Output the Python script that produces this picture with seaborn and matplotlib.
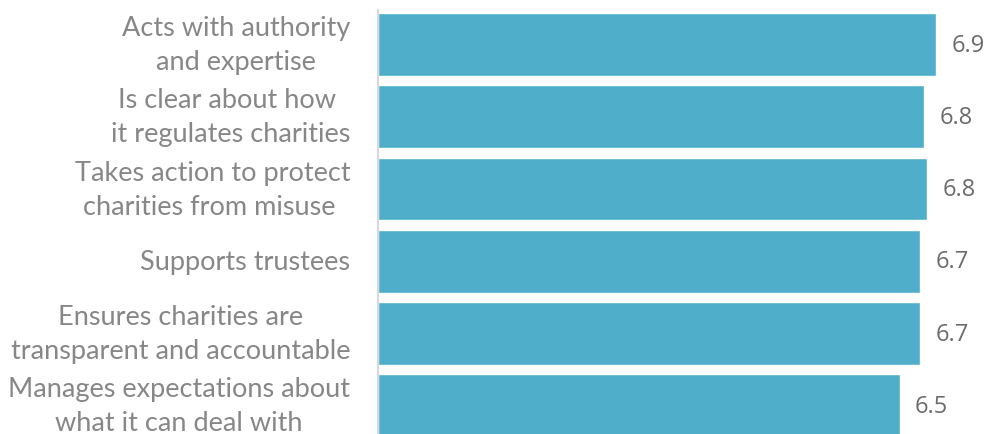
import matplotlib
matplotlib.use("Agg")
import matplotlib.pyplot as plt
import seaborn as sns
import pandas as pd

# ========== data ==========
labels = [
    "Acts with authority\nand expertise",
    "Is clear about how \nit regulates charities",
    "Takes action to protect\ncharities from misuse ",
    "Supports trustees",
    "Ensures charities are\ntransparent and accountable",
    "Manages expectations about\nwhat it can deal with",
]
scores = [6.90, 6.75, 6.79, 6.70, 6.70, 6.45]

df = pd.DataFrame({"label": labels, "score": scores})

bar_color = "#4FAECA"
label_color = "#878787"
value_color = "#6B6B6B"

sns.set_style("white")
plt.rcParams["font.family"] = ["Lato", "DejaVu Sans"]

fig = plt.figure(figsize=(9.92, 4.35), dpi=100)
ax = fig.add_axes([378 / 992, 0, 614 / 992, 1])

sns.barplot(data=df, x="score", y="label", orient="h", color=bar_color,
            width=0.87, saturation=1, ax=ax)

# value labels
for i, v in enumerate(scores):
    ax.annotate(f"{v:.1f}", xy=(v, i), xytext=(11, 0), textcoords="offset points",
                ha="left", va="center", fontsize=17, color=value_color,
                family=["Open Sans", "DejaVu Sans"])

ax.set_xlim(0, 7.59)
ax.set_ylim(5.39, -0.63)
ax.set_xlabel("")
ax.set_ylabel("")
ax.set_xticks([])

for side in ["top", "right", "bottom"]:
    ax.spines[side].set_visible(False)
ax.spines["left"].set_color("#D9D9D9")
ax.spines["left"].set_linewidth(1.5)
ax.spines["left"].set_bounds(5.39, -0.48)

ax.tick_params(axis="y", length=0, pad=20, labelsize=19.5, labelcolor=label_color)
for t in ax.get_yticklabels():
    t.set_multialignment("center")
    t.set_verticalalignment("center")
    t.set_linespacing(1.45)

plt.savefig("out.png", dpi=100)
plt.close()
